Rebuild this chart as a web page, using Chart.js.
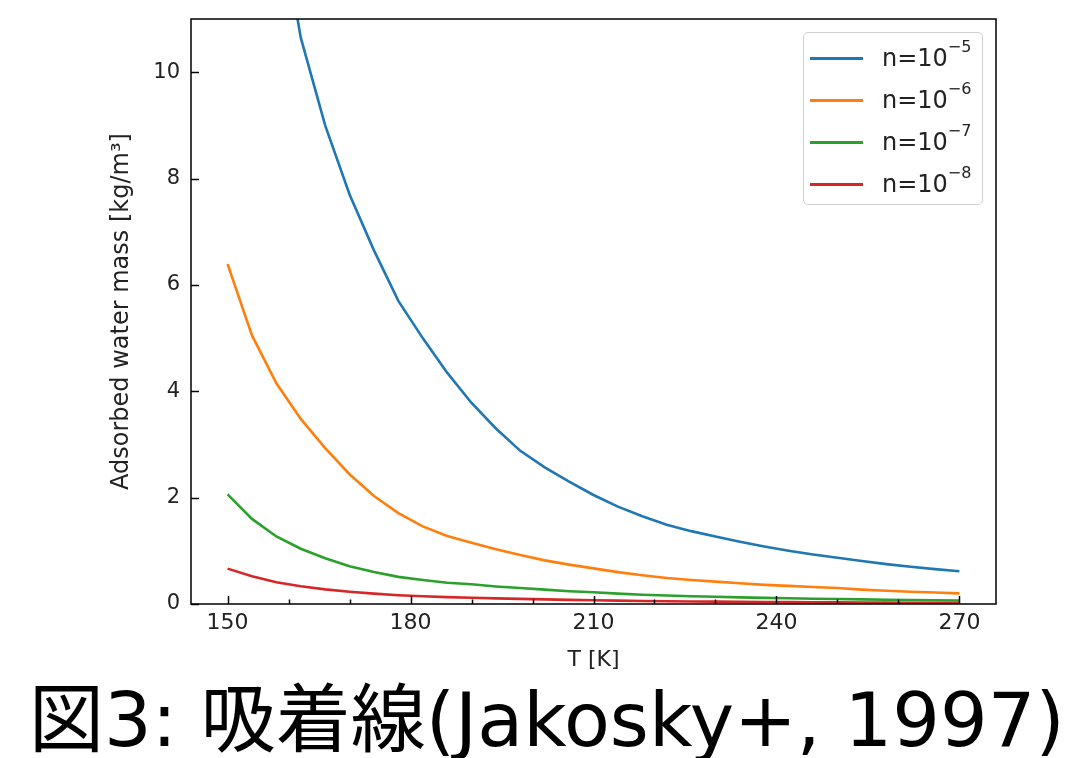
<!DOCTYPE html>
<html>
<head>
<meta charset="utf-8">
<script src="https://cdn.jsdelivr.net/npm/chart.js@4/dist/chart.umd.min.js"></script>
<style>
  html, body { margin: 0; padding: 0; background: #fff; }
  #wrap { position: relative; width: 1070px; height: 758px; overflow: hidden; }
  #c { position: absolute; left: 0; top: 0; }
  #legend { position: absolute; left: 803px; top: 32px; width: 180px; height: 173px;
            box-sizing: border-box; border: 1px solid #d0d0d0; border-radius: 5px; background: rgba(255,255,255,0.8); }
  .lrow { position: absolute; left: 0; width: 180px; height: 40px; }
  .lline { position: absolute; left: 6px; width: 53px; height: 3px; top: 18px; }
  .ltext { position: absolute; left: 78px; top: 3px; font-family: "DejaVu Sans", sans-serif; font-size: 24px; color: #222; line-height: 32px; white-space: nowrap; }
  .ltext sup { font-size: 16px; position: relative; top: -3px; vertical-align: top; line-height: 16px; }
  #title { position: absolute; left: 29px; top: 683px; font-family: "DejaVu Sans", "Noto Sans CJK JP", sans-serif;
           font-size: 75px; line-height: 75px; color: #000; white-space: nowrap; }
</style>
</head>
<body>
<div id="wrap">
  <canvas id="c" width="1070" height="758"></canvas>
  <div id="legend"></div>
  <div id="title">図3: 吸着線(Jakosky+, 1997)</div>
</div>
<script>
// Temperature grid [K]
const temps = [150,154,158,162,166,170,174,178,182,186,190,194,198,202,206,210,214,218,222,226,230,234,238,242,246,250,254,258,262,266,270];

// Adsorbed water mass [kg/m^3]
const n1e5 = [20.5,16.4,13.3,10.65,9.0,7.7,6.65,5.7,5.0,4.35,3.78,3.30,2.88,2.57,2.30,2.05,1.83,1.65,1.49,1.37,1.27,1.17,1.08,1.00,0.93,0.87,0.81,0.75,0.70,0.655,0.615];
const n1e6 = [6.39,5.05,4.15,3.48,2.93,2.44,2.03,1.71,1.46,1.28,1.15,1.03,0.92,0.82,0.74,0.67,0.60,0.54,0.49,0.45,0.42,0.39,0.36,0.34,0.32,0.30,0.27,0.25,0.23,0.215,0.20];
const n1e7 = [2.06,1.60,1.27,1.04,0.86,0.71,0.60,0.51,0.45,0.40,0.37,0.33,0.30,0.27,0.24,0.22,0.195,0.175,0.16,0.145,0.135,0.125,0.115,0.107,0.10,0.094,0.087,0.081,0.076,0.071,0.066];
const n1e8 = [0.665,0.52,0.41,0.335,0.275,0.23,0.195,0.165,0.145,0.13,0.118,0.106,0.096,0.087,0.078,0.071,0.063,0.057,0.052,0.047,0.044,0.040,0.037,0.035,0.032,0.030,0.028,0.026,0.024,0.023,0.021];

const seriesNames = ["n=10", "n=10", "n=10", "n=10"];
const seriesExps = ["−5", "−6", "−7", "−8"];
const seriesColors = ["#1f77b4", "#ff7f0e", "#2ca02c", "#d62728"];
const seriesValues = [n1e5, n1e6, n1e7, n1e8];

const xTickValues = [150,160,170,180,190,200,210,220,230,240,250,260,270];
const xLabeled = [150,180,210,240,270];
const yTickValues = [0,2,4,6,8,10];

const xTitle = "T [K]";
const yTitle = "Adsorbed water mass [kg/m³]";

const FONT = "'DejaVu Sans', sans-serif";

const boxPlugin = {
  id: 'boxAndTicks',
  afterDatasetsDraw(chart) {
    const {ctx, chartArea: a, scales} = chart;
    ctx.save();
    ctx.strokeStyle = '#000';
    ctx.lineWidth = 1.5;
    const xs = scales.x;
    xs.ticks.forEach(t => {
      const px = Math.round(xs.getPixelForValue(t.value)) + 0.5;
      const len = xLabeled.includes(t.value) ? 8 : 4.5;
      ctx.beginPath(); ctx.moveTo(px, a.bottom); ctx.lineTo(px, a.bottom - len); ctx.stroke();
    });
    const ys = scales.y;
    ys.ticks.forEach(t => {
      const py = Math.round(ys.getPixelForValue(t.value)) + 0.5;
      ctx.beginPath(); ctx.moveTo(a.left, py); ctx.lineTo(a.left + 8, py); ctx.stroke();
    });
    ctx.strokeRect(a.left, a.top, a.right - a.left, a.bottom - a.top);
    ctx.restore();
  }
};

new Chart(document.getElementById('c'), {
  type: 'line',
  data: {
    datasets: seriesValues.map((vals, k) => ({
      label: seriesNames[k] + seriesExps[k],
      data: temps.map((t, i) => ({x: t, y: vals[i]})),
      borderColor: seriesColors[k],
      backgroundColor: seriesColors[k],
      borderWidth: 2.6,
      pointRadius: 0,
      tension: 0,
      fill: false
    }))
  },
  options: {
    responsive: false,
    animation: false,
    devicePixelRatio: 1,
    layout: { padding: { left: 0, right: 74, top: 19, bottom: 0 } },
    plugins: { legend: { display: false }, tooltip: { enabled: false } },
    scales: {
      x: {
        type: 'linear', min: 144, max: 276,
        afterBuildTicks: s => { s.ticks = xTickValues.map(v => ({value: v})); },
        afterFit: s => { s.height = 154; s.paddingLeft = 0; s.paddingRight = 0; },
        grid: { display: false, drawTicks: false },
        border: { display: false },
        ticks: {
          padding: 6, color: '#222', font: { family: FONT, size: 22 },
          autoSkip: false, maxRotation: 0,
          callback: v => xLabeled.includes(v) ? String(v) : ''
        },
        title: { display: true, text: xTitle, color: '#222', font: { family: FONT, size: 22 }, padding: { top: 0, bottom: 85 } }
      },
      y: {
        type: 'linear', min: 0, max: 11,
        afterBuildTicks: s => { s.ticks = yTickValues.map(v => ({value: v})); },
        afterFit: s => { s.width = 191; s.paddingTop = 0; s.paddingBottom = 0; },
        grid: { display: false, drawTicks: false },
        border: { display: false },
        ticks: { padding: 11, color: '#222', font: { family: FONT, size: 21 }, autoSkip: false },
        title: { display: true, text: yTitle, color: '#222', font: { family: FONT, size: 24 }, padding: { top: 107, bottom: 0 } }
      }
    }
  },
  plugins: [boxPlugin]
});

const leg = document.getElementById('legend');
seriesNames.forEach((nm, k) => {
  const row = document.createElement('div');
  row.className = 'lrow';
  row.style.top = (6 + k * 42) + 'px';
  const ln = document.createElement('div');
  ln.className = 'lline';
  ln.style.background = seriesColors[k];
  const tx = document.createElement('div');
  tx.className = 'ltext';
  tx.innerHTML = nm + '<sup>' + seriesExps[k] + '</sup>';
  row.appendChild(ln); row.appendChild(tx);
  leg.appendChild(row);
});
</script>
</body>
</html>
